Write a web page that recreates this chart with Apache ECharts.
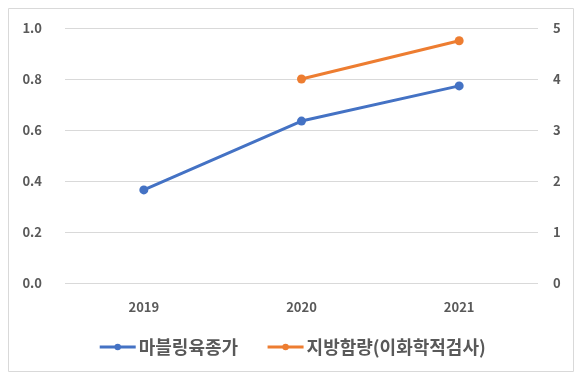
<!DOCTYPE html>
<html><head><meta charset="utf-8">
<script src="https://cdn.jsdelivr.net/npm/echarts@6/dist/echarts.min.js"></script>
<style>html,body{margin:0;padding:0;background:#fff}#c{width:584px;height:386px}</style>
</head><body><div id="c"></div>
<script>
const categories = ['2019', '2020', '2021'];
const marblingValues = [0.365, 0.635, 0.773];
const fatValues = [null, 4.0, 4.75];
const seriesNames = ['마블링육종가', '지방함량(이화학적검사)'];

const font = '"Noto Sans CJK KR", "Noto Sans", sans-serif';
const chart = echarts.init(document.getElementById('c'));
chart.setOption({
  animation: false,
  textStyle: { fontFamily: font },
  graphic: [{
    type: 'rect', shape: { x: 8.5, y: 8.5, width: 565, height: 363 },
    style: { fill: 'none', stroke: '#d9d9d9', lineWidth: 1 }, silent: true
  }],
  grid: { left: 65, right: 46, top: 28, bottom: 103, containLabel: false },
  legend: {
    top: 333, left: 'center', itemWidth: 36, itemHeight: 8, itemGap: 28,
    lineStyle: { width: 3 },
    textStyle: { fontFamily: font, fontSize: 18, fontWeight: 'bold', color: '#595959', padding: [0, 0, 0, -2] },
    data: seriesNames
  },
  xAxis: {
    type: 'category', data: categories, boundaryGap: true,
    axisLine: { show: false }, axisTick: { show: false },
    axisLabel: { fontFamily: font, fontSize: 13, fontWeight: 'bold', color: '#595959', margin: 18 }
  },
  yAxis: [{
    type: 'value', min: 0, max: 1, interval: 0.2,
    axisLine: { show: false }, axisTick: { show: false },
    splitLine: { lineStyle: { color: '#d9d9d9', width: 1 } },
    axisLabel: { fontFamily: font, fontSize: 13, fontWeight: 'bold', color: '#595959', margin: 23,
      formatter: v => v.toFixed(1) }
  }, {
    type: 'value', min: 0, max: 5, interval: 1, position: 'right',
    axisLine: { show: false }, axisTick: { show: false }, splitLine: { show: false },
    axisLabel: { fontFamily: font, fontSize: 13, fontWeight: 'bold', color: '#595959', margin: 15 }
  }],
  series: [{
    name: seriesNames[0], type: 'line', yAxisIndex: 0, data: marblingValues,
    symbol: 'circle', symbolSize: 9,
    lineStyle: { color: '#4472C4', width: 3 }, itemStyle: { color: '#4472C4' }
  }, {
    name: seriesNames[1], type: 'line', yAxisIndex: 1, data: fatValues,
    symbol: 'circle', symbolSize: 9,
    lineStyle: { color: '#ED7D31', width: 3 }, itemStyle: { color: '#ED7D31' }
  }]
});
</script></body></html>
